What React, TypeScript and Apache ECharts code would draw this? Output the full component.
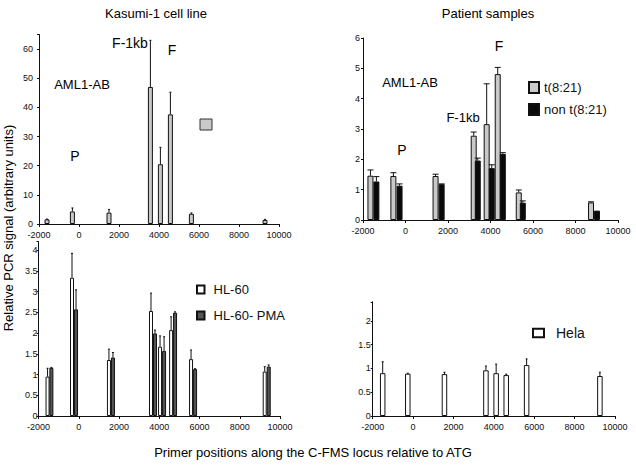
import React, { useEffect, useRef } from "react";
import * as echarts from "echarts";

// ---- tick labels ----
const xTicks = [-2000, 0, 2000, 4000, 6000, 8000, 10000];
const yTicksKasumi = [0, 10, 20, 30, 40, 50, 60];
const yTicksPatient = [0, 1, 2, 3, 4, 5, 6];
const yTicksHL = [0, 0.5, 1, 1.5, 2, 2.5, 3, 3.5, 4];
const yTicksHela = [0, 0.5, 1, 1.5, 2];

// ---- Kasumi-1 cell line (AML1-AB) ----
const kasumiX = [-1600, -330, 1500, 3570, 4070, 4570, 5620, 9300];
const kasumiY = [1.6, 4.3, 3.9, 47, 20.5, 37.6, 3.5, 1.4];
const kasumiErr = [1.7, 5.5, 5.0, 63, 26.3, 45.2, 3.8, 1.6];

// ---- Patient samples ----
const tX = [-1650, -570, 1415, 3210, 3820, 4340, 5330, 8730];
const tY = [1.46, 1.45, 1.45, 2.78, 3.16, 4.81, 0.91, 0.58];
const tErr = [1.65, 1.56, 1.51, 2.9, 4.49, 5.03, 0.99, 0.6];
const nX = [-1370, -280, 1700, 3400, 4060, 4580, 5520, 9010];
const nY = [1.27, 1.13, 1.18, 1.96, 1.71, 2.18, 0.57, 0.31];
const nErr = [1.43, 1.19, 1.19, 2.04, 1.82, 2.22, 0.63, 0.31];

// ---- HL-60 ----
const hlX = [-1550, -335, 1500, 3590, 4040, 4590, 5580, 9240];
const hlY = [0.95, 3.33, 1.35, 2.53, 1.67, 2.07, 1.37, 1.07];
const hlErr = [1.15, 3.92, 1.61, 2.96, 1.93, 2.39, 1.59, 1.19];
const pmaX = [-1360, -135, 1700, 3790, 4240, 4785, 5780, 9440];
const pmaY = [1.16, 2.57, 1.41, 1.99, 1.57, 2.49, 1.13, 1.19];
const pmaErr = [1.17, 3.04, 1.53, 2.07, 1.91, 2.51, 1.14, 1.23];

// ---- Hela ----
const helaX = [-1505, -262, 1554, 3608, 4114, 4613, 5623, 9252];
const helaY = [0.9, 0.89, 0.88, 0.96, 0.9, 0.86, 1.07, 0.84];
const helaErr = [1.14, 0.9, 0.92, 1.05, 1.09, 0.88, 1.2, 0.92];

const FONT = "'Liberation Sans', Arial, Helvetica, sans-serif";

const pairs = (xs: number[], ys: number[]) => xs.map((x, i) => [x, ys[i]]);
const errs = (xs: number[], ys: number[], es: number[]) =>
  xs.map((x, i) => [x, ys[i], es[i]]);

function barSeries(name: string, idx: number, xs: number[], ys: number[], color: string, width: number) {
  return {
    type: "bar",
    name,
    xAxisIndex: idx,
    yAxisIndex: idx,
    data: pairs(xs, ys),
    barWidth: width,
    barGap: "-100%",
    itemStyle: { color, borderColor: "#111", borderWidth: 1 },
    emphasis: { disabled: true },
  };
}

function errSeries(idx: number, xs: number[], ys: number[], es: number[], cap: number) {
  return {
    type: "custom",
    xAxisIndex: idx,
    yAxisIndex: idx,
    data: errs(xs, ys, es),
    dimensions: ["x", "lo", "hi"],
    encode: { x: 0, y: [1, 2] },
    silent: true,
    z: 5,
    renderItem: (params: any, api: any) => {
      const x = api.value(0);
      const lo = api.value(1);
      const hi = api.value(2);
      if (hi <= lo) return null;
      const p1 = api.coord([x, lo]);
      const p2 = api.coord([x, hi]);
      const h = cap / 2;
      return {
        type: "group",
        children: [
          { type: "line", shape: { x1: p1[0], y1: p1[1], x2: p2[0], y2: p2[1] }, style: { stroke: "#111", lineWidth: 1 } },
          { type: "line", shape: { x1: p2[0] - h, y1: p2[1], x2: p2[0] + h, y2: p2[1] }, style: { stroke: "#111", lineWidth: 1 } },
        ],
      };
    },
  };
}

const plain = (v: number) => String(v);

function xAxis(idx: number) {
  return {
    type: "value",
    gridIndex: idx,
    min: -2000,
    max: 10000,
    interval: 2000,
    axisLine: { show: true, onZero: false, lineStyle: { color: "#111", width: 1 } },
    axisTick: { show: true, length: 3, lineStyle: { color: "#111" }, customValues: xTicks },
    axisLabel: { fontSize: 9, color: "#111", fontFamily: FONT, margin: 6, customValues: xTicks, formatter: plain },
    splitLine: { show: false },
  };
}

function yAxis(idx: number, max: number, interval: number, ticks: number[], margin: number) {
  return {
    type: "value",
    gridIndex: idx,
    min: 0,
    max,
    interval,
    axisLine: { show: true, onZero: false, lineStyle: { color: "#111", width: 1 } },
    axisTick: { show: true, length: 2, lineStyle: { color: "#111" } },
    axisLabel: {
      fontSize: 9,
      color: "#111",
      fontFamily: FONT,
      margin,
      formatter: (v: number) => (ticks.indexOf(v) >= 0 ? String(v) : ""),
      showMinLabel: true,
      showMaxLabel: true,
    },
    splitLine: { show: false },
  };
}

const txt = (text: string, x: number, y: number, size = 13, extra: any = {}) => ({
  type: "text",
  x,
  y,
  silent: true,
  ...extra,
  style: {
    text,
    fill: "#000",
    fontSize: size,
    fontFamily: FONT,
    fontWeight: "normal",
    align: "center",
    verticalAlign: "middle",
  },
});

export default function App() {
  const ref = useRef<HTMLDivElement>(null);
  useEffect(() => {
    if (!ref.current) return;
    const chart = echarts.init(ref.current, undefined, { renderer: "svg" });
    chart.setOption({
      animation: false,
      backgroundColor: "#fff",
      grid: [
        { left: 39, top: 34.5, width: 240, height: 189.5 },
        { left: 363, top: 38, width: 255, height: 182 },
        { left: 38.5, top: 241.7, width: 241.5, height: 174.3 },
        { left: 372.7, top: 301.8, width: 242.3, height: 114.2 },
      ],
      xAxis: [xAxis(0), xAxis(1), xAxis(2), xAxis(3)],
      yAxis: [
        yAxis(0, 65, 10, yTicksKasumi, 6),
        yAxis(1, 6, 1, yTicksPatient, 3),
        yAxis(2, 4.2, 0.5, yTicksHL, 1),
        yAxis(3, 2.4, 0.5, yTicksHela, 2),
      ],
      legend: [
        {
          data: ["t(8:21)", "non t(8:21)"],
          orient: "vertical",
          left: 528,
          top: 81,
          padding: 0,
          icon: "rect",
          itemWidth: 10,
          itemHeight: 11,
          itemGap: 9,
          selectedMode: false,
          textStyle: { fontSize: 13, color: "#111", fontFamily: FONT },
        },
        {
          data: ["HL-60", "HL-60- PMA"],
          orient: "vertical",
          left: 196,
          top: 283,
          padding: 0,
          icon: "rect",
          itemWidth: 7.5,
          itemHeight: 8,
          itemGap: 13,
          selectedMode: false,
          textStyle: { fontSize: 13, color: "#111", fontFamily: FONT, padding: [0, 0, 0, 4] },
        },
        {
          data: ["Hela"],
          orient: "vertical",
          left: 532,
          top: 326,
          padding: 0,
          icon: "rect",
          itemWidth: 11,
          itemHeight: 8.5,
          selectedMode: false,
          textStyle: { fontSize: 14, color: "#111", fontFamily: FONT, padding: [0, 0, 0, 7] },
        },
      ],
      series: [
        barSeries("AML1-AB Kasumi-1", 0, kasumiX, kasumiY, "#c9c9c9", 5),
        errSeries(0, kasumiX, kasumiY, kasumiErr, 2),
        barSeries("t(8:21)", 1, tX, tY, "#c9c9c9", 6),
        barSeries("non t(8:21)", 1, nX, nY, "#0a0a0a", 6),
        errSeries(1, tX, tY, tErr, 6),
        errSeries(1, nX, nY, nErr, 6),
        barSeries("HL-60", 2, hlX, hlY, "#ffffff", 4),
        barSeries("HL-60- PMA", 2, pmaX, pmaY, "#555555", 4),
        errSeries(2, hlX, hlY, hlErr, 2),
        errSeries(2, pmaX, pmaY, pmaErr, 2),
        barSeries("Hela", 3, helaX, helaY, "#ffffff", 5.5),
        errSeries(3, helaX, helaY, helaErr, 2),
      ],
      graphic: [
        txt("Kasumi-1 cell line", 156, 13),
        txt("Patient samples", 488, 13),
        txt("Primer positions along the C-FMS locus relative to ATG", 313, 452),
        txt("Relative PCR signal (arbitrary units)", 8, 228, 13, { rotation: Math.PI / 2 }),
        txt("F-1kb", 130, 43, 14),
        txt("F", 172, 50, 14),
        txt("AML1-AB", 82, 84, 13),
        txt("P", 75, 156, 14),
        txt("AML1-AB", 410, 82, 13),
        txt("F-1kb", 463, 117, 13),
        txt("F", 499, 46, 14),
        txt("P", 402, 150, 14),
        {
          type: "rect",
          shape: { x: 200, y: 119, width: 12, height: 11 },
          style: { fill: "#c9c9c9", stroke: "#333", lineWidth: 1 },
        },
      ],
    });
    return () => chart.dispose();
  }, []);
  return (
    <div
      ref={ref}
      style={{ position: "fixed", left: 0, top: 0, width: 636, height: 471, background: "#fff" }}
    />
  );
}
